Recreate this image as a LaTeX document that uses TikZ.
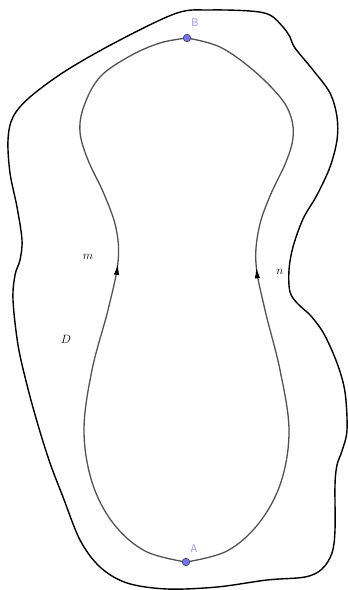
\documentclass[tikz,border=0pt]{standalone}
\usetikzlibrary{arrows.meta,decorations.markings}
\begin{document}
\begin{tikzpicture}[x=1pt,y=-1pt,
  outer/.style={line width=1.4pt,black},
  inner/.style={line width=1.3pt,draw=black!68},
  pt/.style={circle,draw=black!75,fill=blue!55!white,line width=0.6pt,inner sep=0pt,minimum size=7.5pt},
  ptlabel/.style={text=blue!45!white,font=\sffamily\fontsize{11}{11}\selectfont},
  curvelabel/.style={font=\fontsize{13}{13}\selectfont},
  midarrow/.style={postaction={decorate},decoration={markings,mark=at position #1 with {\arrow[black]{Latex[length=11pt,width=5.5pt]}}}}
]
\useasboundingbox (0,0) rectangle (348,590);
\fill[white] (0,0) rectangle (348,590);

% outer curve
\draw[outer] plot[smooth cycle,tension=0.55] coordinates {
 (177,13) (210,10) (250,11) (270,15) (283,27) (290,37) (295,48) (313,70) (330,93)
 (337,117) (337,140) (330,167) (317,195) (303,219) (293,247) (289,270) (290,292)
 (298,304) (311,316) (324,334) (337,363) (345,392) (347,430) (342,451) (337,465)
 (335,485) (335,530) (332,553) (322,569) (305,577) (267,580) (217,587) (167,589)
 (127,583) (100,567) (80,540) (63,497) (50,463) (38,425) (27,385) (18,345)
 (13,300) (15,275) (20,260) (22,240) (17,207) (10,173) (8,140) (13,117) (30,97)
 (67,70) (120,40)};

% inner curves
\coordinate (A) at (186,562);
\coordinate (B) at (187,38);
\draw[inner,midarrow=0.545] plot[smooth,tension=0.6] coordinates {
 (186,562) (145,551) (113,523) (92,482) (84,430) (92,370) (108,310)
 (118,262) (116,228) (104,194) (88,160) (80,132) (84,106) (100,77) (130,56)
 (160,43) (187,38)};
\draw[inner,midarrow=0.545] plot[smooth,tension=0.6] coordinates {
 (186,562) (227,551) (259,523) (281,482) (289,430) (280,370) (265,310)
 (256,264) (259,228) (270,196) (286,162) (293,138) (291,117) (280,97) (253,70)
 (220,47) (187,38)};

\node[pt] (pA) at (A) {};
\node[pt] (pB) at (B) {};
\node[ptlabel] (lA) at (194,549) {A};
\node[ptlabel] (lB) at (195,23) {B};
\node[curvelabel] (lm) at (88,257) {$m$};
\node[curvelabel] (ln) at (280,272) {$n$};
\node[curvelabel] (lD) at (66,339) {$D$};
\end{tikzpicture}
\end{document}
